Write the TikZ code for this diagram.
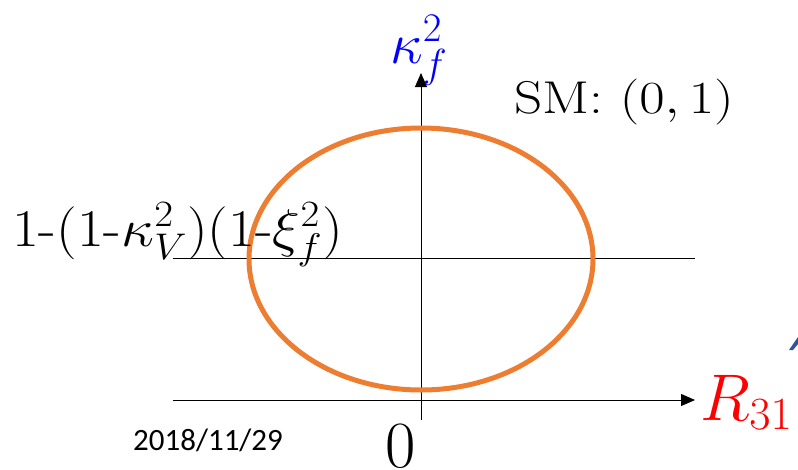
\RequirePackage{fix-cm}
\documentclass[tikz,border=0pt]{standalone}
\usepackage{fontspec}
\usepackage{graphicx}
\newfontfamily\datefont{Carlito}
\usetikzlibrary{arrows.meta}
\definecolor{ellorange}{RGB}{237,125,49}
\definecolor{slblue}{RGB}{47,85,151}
\tikzset{
  axisline/.style={line width=1pt, -{Triangle[length=14pt,width=12pt]}},
  plainline/.style={line width=1pt},
  lbl/.style={inner sep=0pt, anchor=base west},
}
\newcommand{\fsz}[1]{\fontsize{#1}{#1}\selectfont}
\begin{document}
\begin{tikzpicture}[x=1pt,y=-1pt]
\useasboundingbox (0,0) rectangle (798,469);
\coordinate (vb) at (421,420);
\coordinate (vt) at (421,73);
\coordinate (hl) at (173,400);
\coordinate (hr) at (695,400);
\coordinate (ml) at (173,258);
\coordinate (mr) at (695,258);
\coordinate (ec) at (421,259);
\draw[plainline] (ml) -- (mr);
\draw[axisline] (hl) -- (hr);
\draw[axisline] (vb) -- (vt);
\draw[ellorange, line width=5pt] (ec) ellipse [x radius=172pt, y radius=131pt];
\node[lbl, text=blue] (kf) at (390,63) {\fsz{58}$\kappa_f^2$};
\node[lbl] (sm) at (514,113) {\scalebox{1.2}[1]{\fsz{46}SM: $(0,1)$}};
\node[lbl] (lab) at (12,246) {\scalebox{1.1}[1]{\fsz{53}1-(1-$\kappa_V^2$)(1-$\xi_f^2$)}};
\node[lbl, text=red] (r31) at (700,420) {\fsz{66}$R_{31}$};
\node[lbl] (zero) at (385,467) {\fsz{66}$0$};
\node[lbl] (date) at (133,450) {\datefont\fsz{31}2018/11/29};
\fill[slblue] (789,350) -- (798,337) -- (798,344) -- (793,350) -- cycle;
\end{tikzpicture}
\end{document}
